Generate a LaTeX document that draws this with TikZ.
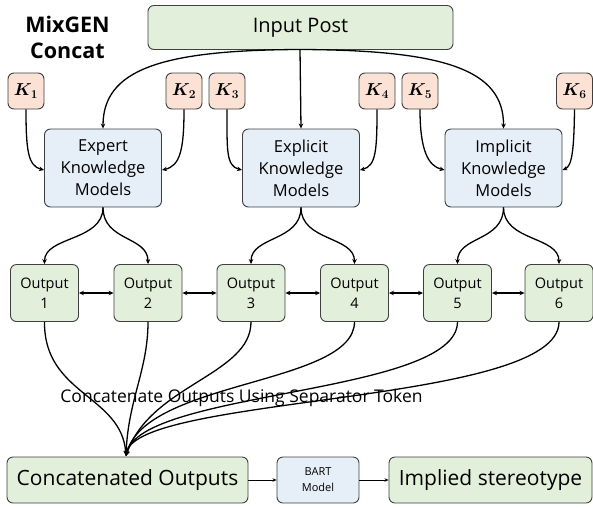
\documentclass[tikz,border=0pt]{standalone}
\usepackage{fontspec}
\usepackage{amsmath}
\setmainfont{Open Sans}
\usetikzlibrary{arrows.meta}
\definecolor{gfill}{HTML}{E2EFDA}
\definecolor{bfill}{HTML}{E6EFF8}
\definecolor{kfill}{HTML}{FBE2D5}
\definecolor{bord}{HTML}{3F3F3F}
\begin{document}
\begin{tikzpicture}[x=1pt,y=-1pt,
  box/.style={draw=bord,line width=0.9pt,rounded corners=6pt,inner sep=0pt,align=center},
  gbox/.style={box,fill=gfill},
  bbox/.style={box,fill=bfill},
  kbox/.style={box,fill=kfill,minimum width=36pt,minimum height=36pt,font=\fontsize{18}{20}\selectfont},
  conn/.style={line width=1.3pt,-{Stealth[length=5pt,width=4.5pt]}},
  dconn/.style={line width=1.3pt,{Stealth[length=5pt,width=4.5pt]}-{Stealth[length=5pt,width=4.5pt]}},
  thin/.style={line width=0.9pt,-{Stealth[length=4pt,width=3.5pt]}}]
\useasboundingbox (0,0) rectangle (593,507);
% title
\node[font=\fontsize{21.5}{26}\selectfont\bfseries,align=center] (title) at (67.5,37) {MixGEN\\Concat};
% input post
\node[gbox,minimum width=305pt,minimum height=44pt,font=\fontsize{20}{24}\selectfont] (inp) at (300.5,27.5) {Input Post};
% K boxes
\node[kbox] (k1) at (26,91) {$\boldsymbol{K_1}$};
\node[kbox] (k2) at (184,91) {$\boldsymbol{K_2}$};
\node[kbox] (k3) at (227,91) {$\boldsymbol{K_3}$};
\node[kbox] (k4) at (377,91) {$\boldsymbol{K_4}$};
\node[kbox] (k5) at (420,91) {$\boldsymbol{K_5}$};
\node[kbox] (k6) at (574.5,91) {$\boldsymbol{K_6}$};
% model boxes
\tikzset{mbox/.style={bbox,minimum width=117pt,minimum height=78pt,font=\fontsize{16.5}{22}\selectfont}}
\node[mbox] (m1) at (103,168) {Expert\\Knowledge\\Models};
\node[mbox] (m2) at (301,168) {Explicit\\Knowledge\\Models};
\node[mbox] (m3) at (503.5,168) {Implicit\\Knowledge\\Models};
% outputs
\tikzset{obox/.style={gbox,minimum width=68pt,minimum height=57pt,font=\fontsize{14.5}{20}\selectfont}}
\node[obox] (o1) at (44.5,293) {Output\\1};
\node[obox] (o2) at (148,293) {Output\\2};
\node[obox] (o3) at (251,293) {Output\\3};
\node[obox] (o4) at (354.5,293) {Output\\4};
\node[obox] (o5) at (457.5,293) {Output\\5};
\node[obox] (o6) at (559,293) {Output\\6};
% bottom row
\node[gbox,minimum width=241pt,minimum height=46pt,font=\fontsize{21}{25}\selectfont] (cat) at (127.5,480) {Concatenated Outputs};
\node[bbox,minimum width=82pt,minimum height=46pt,font=\fontsize{11}{16}\selectfont] (bart) at (318,480) {BART\\Model};
\node[gbox,minimum width=203pt,minimum height=46pt,font=\fontsize{21}{25}\selectfont] (imp) at (490.5,480) {Implied stereotype};
% input arrows
\coordinate (ib) at (300,49.5);
\draw[conn] (ib) .. controls (160,50) and (103,70) .. (m1.north);
\draw[conn] (ib) -- (m2.north);
\draw[conn] (ib) .. controls (445,50) and (504,70) .. (m3.north);
% K arrows
\draw[conn] (k1.south) .. controls (26,150) and (28,166) .. ([yshift=-2pt]m1.west);
\draw[conn] (k2.south) .. controls (184,150) and (180,166) .. ([yshift=-2pt]m1.east);
\draw[conn] (k3.south) .. controls (227,150) and (226,166) .. ([yshift=-2pt]m2.west);
\draw[conn] (k4.south) .. controls (377,150) and (376,166) .. ([yshift=-2pt]m2.east);
\draw[conn] (k5.south) .. controls (420,150) and (428,166) .. ([yshift=-2pt]m3.west);
\draw[conn] (k6.south) .. controls (574,150) and (572,166) .. ([yshift=-2pt]m3.east);
% model to outputs
\foreach \m/\a/\b in {m1/o1/o2,m2/o3/o4,m3/o5/o6}{
  \draw[conn] (\m.south) .. controls ([yshift=-34pt]\m.south) and ([yshift=28pt]\a.north) .. (\a.north);
  \draw[conn] (\m.south) .. controls ([yshift=-34pt]\m.south) and ([yshift=28pt]\b.north) .. (\b.north);
}
% between outputs
\draw[dconn] (o1) -- (o2);
\draw[dconn] (o2) -- (o3);
\draw[dconn] (o3) -- (o4);
\draw[dconn] (o4) -- (o5);
\draw[dconn] (o5) -- (o6);
% outputs to concatenated
\coordinate (ct) at (126,456);
\draw[conn] (o1.south) .. controls (44,395) and (122,395) .. (ct);
\draw[conn] (o2.south) .. controls (148,370) and (128,400) .. (ct);
\draw[conn] (o3.south) .. controls (251,375) and (150,385) .. (ct);
\draw[conn] (o4.south) .. controls (354,385) and (145,380) .. (ct);
\draw[conn] (o5.south) .. controls (457,395) and (140,390) .. (ct);
\draw[conn] (o6.south) .. controls (559,405) and (135,395) .. (ct);
\node[font=\fontsize{17.5}{21}\selectfont] (sep) at (241.5,398) {Concatenate Outputs Using Separator Token};
% bottom arrows
\draw[thin] (cat) -- (bart);
\draw[thin] (bart) -- (imp);
\end{tikzpicture}
\end{document}
